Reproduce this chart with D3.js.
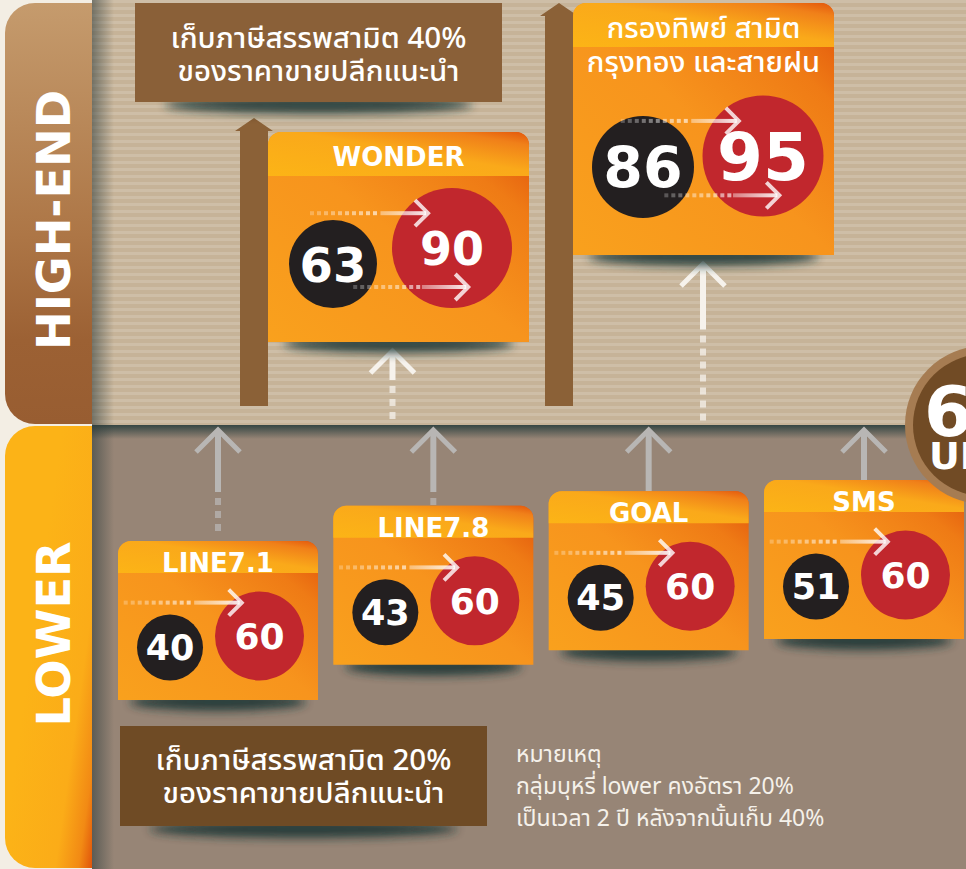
<!DOCTYPE html>
<html lang="th">
<head>
<meta charset="UTF-8">
<title>Excise tax on cigarettes</title>
<script src="https://d3js.org/d3.v7.min.js"></script>
<style>
  body { margin: 0; background: #f3eee4; }
  svg text { font-family: "DejaVu Sans", sans-serif; }
  svg text.thai { font-family: "Noto Sans Thai", "Noto Sans", "DejaVu Sans", sans-serif; }
</style>
</head>
<body>
<div id="chart"></div>
<script>
// ---- data ----
const tierLabels = ["HIGH-END", "LOWER"];
const lowerBrands = ["LINE7.1", "LINE7.8", "GOAL", "SMS"];
const lowerNow = [40, 43, 45, 51];
const lowerNew = [60, 60, 60, 60];
const highBrands = [["WONDER"], ["กรองทิพย์ สามิต", "กรุงทอง และสายฝน"]];
const highNow = [63, 86];
const highNew = [90, 95];
const highTax = ["เก็บภาษีสรรพสามิต 40%", "ของราคาขายปลีกแนะนำ"];
const lowerTax = ["เก็บภาษีสรรพสามิต 20%", "ของราคาขายปลีกแนะนำ"];
const notes = ["หมายเหตุ", "กลุ่มบุหรี่ lower คงอัตรา 20%", "เป็นเวลา 2 ปี หลังจากนั้นเก็บ 40%"];
const badge = ["60", "UP"];

// ---- layout ----
const W = 966, H = 869, splitY = 425, mainX = 92;
const lerp = (a, b, t) => d3.interpolateNumber(a, b)(t);

const xLow = d3.scaleLinear().domain([0, lowerBrands.length - 1]).range([118, 764]);
const yLow = d3.scaleSqrt().domain([0, lowerBrands.length - 1]).range([541, 480]);
const xHigh = d3.scaleLinear().domain([0, highBrands.length - 1]).range([268, 573]);
const yHigh = d3.scaleLinear().domain([0, highBrands.length - 1]).range([132, 3]);
const hHigh = d3.scaleLinear().domain([0, highBrands.length - 1]).range([210, 252]);

const cards = [];
lowerBrands.forEach((b, i) => {
  const x = xLow(i), y = yLow(i);
  cards.push({tier: "lower", lines: [b], now: lowerNow[i], next: lowerNew[i],
    x, y, w: 200, h: 159, head: 32,
    bx: x + 52, by: y + 106.5, rB: 33, fsB: 35,
    rx: x + 141.5, ry: y + 95, rR: 44.5, fsR: 36});
});
highBrands.forEach((b, i) => {
  const t = i / Math.max(1, highBrands.length - 1);
  const x = xHigh(i), y = yHigh(i), h = hHigh(i);
  cards.push({tier: "high", lines: b, now: highNow[i], next: highNew[i],
    x, y, w: 261, h, head: 44,
    bx: x + lerp(65, 70, t), by: y + h - lerp(78, 88, t), rB: lerp(44, 51, t), fsB: lerp(48, 57, t),
    rx: x + lerp(184, 190, t), ry: y + h - lerp(94, 99, t), rR: lerp(60, 60.5, t), fsR: lerp(46, 66, t)});
});

const svg = d3.select("#chart").append("svg")
  .attr("width", W).attr("height", H);
const defs = svg.append("defs");

const stripes = defs.append("pattern").attr("id", "stripes")
  .attr("patternUnits", "userSpaceOnUse").attr("width", 10).attr("height", 7);
stripes.append("rect").attr("width", 10).attr("height", 7).attr("fill", "#c6b398");
stripes.append("rect").attr("width", 10).attr("height", 3).attr("fill", "#cebea7");

function grad(id, stops, x1, y1, x2, y2) {
  const g = defs.append("linearGradient").attr("id", id)
    .attr("x1", x1).attr("y1", y1).attr("x2", x2).attr("y2", y2);
  stops.forEach(s => g.append("stop").attr("offset", s[0]).attr("stop-color", s[1])
    .attr("stop-opacity", s[2] == null ? 1 : s[2]));
}
grad("highPanel", [[0, "#c59b6d"], [0.55, "#ad7646"], [0.8, "#9c6134"], [1, "#985d31"]], 0, 0, 0, 1);
grad("lowPanel", [[0, "#fcb317"], [0.6, "#fbac18"], [0.85, "#f28a14"], [1, "#e0540b"]], 0.3, 0.5, 1, 1);
grad("cardBody", [[0, "#f9a11d"], [0.5, "#f7941d"], [0.8, "#ef7b15"], [1, "#e0520b"]], 0, 1, 1, 0);
grad("cardHead", [[0, "#fcb416"], [0.55, "#faa91a"], [0.85, "#f08019"], [1, "#e3570c"]], 0, 1, 1, 0);
grad("fadeH", [[0, "#ffffff", 0.4], [1, "#ffffff", 0.9]], 0, 0, 1, 0);
grad("splitShade", [[0, "#233a3a", 0.85], [1, "#233a3a", 0]], 0, 0, 0, 1);
grad("leftShade", [[0, "#2c3a3a", 0.55], [1, "#2c3a3a", 0]], 0, 0, 1, 0);

defs.append("filter").attr("id", "blur").attr("x", "-20%").attr("y", "-200%")
  .attr("width", "140%").attr("height", "500%")
  .append("feGaussianBlur").attr("stdDeviation", 5);

function roundLeft(x, y, w, h, r) {
  return `M${x + w},${y}H${x + r}A${r},${r} 0 0 0 ${x},${y + r}V${y + h - r}A${r},${r} 0 0 0 ${x + r},${y + h}H${x + w}Z`;
}
function roundTop(x, y, w, h, r) {
  return `M${x},${y + h}V${y + r}A${r},${r} 0 0 1 ${x + r},${y}H${x + w - r}A${r},${r} 0 0 1 ${x + w},${y + r}V${y + h}Z`;
}

// ---- background ----
svg.append("rect").attr("width", W).attr("height", H).attr("fill", "#f3eee4");
svg.append("rect").attr("x", mainX).attr("y", 0).attr("width", W - mainX).attr("height", splitY)
  .attr("fill", "url(#stripes)");
svg.append("rect").attr("x", mainX).attr("y", splitY).attr("width", W - mainX).attr("height", H - splitY)
  .attr("fill", "#978576");
svg.append("rect").attr("x", mainX).attr("y", splitY).attr("width", W - mainX).attr("height", 14)
  .attr("fill", "url(#splitShade)");
svg.append("rect").attr("x", mainX).attr("y", 0).attr("width", 22).attr("height", H)
  .attr("fill", "url(#leftShade)");

// tier side panels
svg.append("path").attr("d", roundLeft(5, 3, mainX - 5, splitY - 4, 30)).attr("fill", "url(#highPanel)");
svg.append("path").attr("d", roundLeft(5, splitY + 1, mainX - 5, H - splitY - 2, 30)).attr("fill", "url(#lowPanel)");
const tierCenter = [220, 634], tierLen = [260, 185];
tierLabels.forEach((t, i) => {
  svg.append("text")
    .attr("transform", `translate(53,${tierCenter[i]}) rotate(-90)`)
    .attr("text-anchor", "middle").attr("dy", "0.36em")
    .attr("font-size", 47).attr("font-weight", "bold").attr("fill", "#fff")
    .attr("textLength", tierLen[i]).attr("lengthAdjust", "spacingAndGlyphs")
    .text(t);
});

// ---- arrows ----
function vArrow(g, x, yTip, ySolid, yEnd, color) {
  g.append("path").attr("d", `M${x - 22},${yTip + 22}L${x},${yTip}L${x + 22},${yTip + 22}`)
    .attr("fill", "none").attr("stroke", color).attr("stroke-width", 5);
  g.append("rect").attr("x", x - 3).attr("y", yTip + 2).attr("width", 6).attr("height", ySolid - yTip - 2)
    .attr("fill", color);
  g.selectAll(null).data(d3.range(ySolid + 6, yEnd - 4, 13)).join("rect")
    .attr("x", x - 3).attr("y", d => d).attr("width", 6).attr("height", 7)
    .attr("fill", color).attr("opacity", 0.75);
}
function hArrow(g, x0, x1, y) {
  const len = x1 - x0, dotsEnd = x0 + len * 0.58;
  const dots = d3.range(x0, dotsEnd, 7);
  g.selectAll(null).data(dots).join("rect")
    .attr("x", d => d).attr("y", y - 2).attr("width", 4).attr("height", 4)
    .attr("fill", "#fff").attr("opacity", (d, i) => 0.25 + 0.4 * i / dots.length);
  g.append("rect").attr("x", dotsEnd + 2).attr("y", y - 2).attr("width", x1 - dotsEnd - 4).attr("height", 4)
    .attr("fill", "url(#fadeH)");
  g.append("path").attr("d", `M${x1 - 13},${y - 13}L${x1},${y}L${x1 - 13},${y + 13}`)
    .attr("fill", "none").attr("stroke", "#fff").attr("stroke-width", 4).attr("opacity", 0.8);
}

const arrowLayer = svg.append("g");
cards.forEach(c => {
  if (c.tier === "lower") {
    const x = c.x + c.w / 2;
    vArrow(arrowLayer, x, 430, Math.min(492, c.y), c.y, "#b8b6b4");
  } else {
    const x = (c.bx + c.rx) / 2, tip = c.y + c.h + 9;
    vArrow(arrowLayer, x, tip, tip + (splitY - 5 - tip) * 0.42, splitY - 3, "#f6f2ec");
  }
});

// brown tax arrows beside high-end cards
cards.filter(c => c.tier === "high").forEach(c => {
  const x1 = c.x, x0 = c.x - 28;
  const tip = c.y > 50 ? c.y - 14 : c.y;
  const base = tip + 13;
  svg.append("path")
    .attr("d", `M${x0},${splitY - 19}V${base}H${x0 - 5}L${(x0 + x1) / 2},${tip}L${x1 + 5},${base}H${x1}V${splitY - 19}Z`)
    .attr("fill", "#8b6137");
});

// ---- tax boxes ----
function taxBox(x, y, w, h, fill, lines, baselines) {
  svg.append("ellipse").attr("cx", x + w / 2).attr("cy", y + h + 3).attr("rx", w * 0.42).attr("ry", 9)
    .attr("fill", "#163232").attr("opacity", 0.85).attr("filter", "url(#blur)");
  svg.append("rect").attr("x", x).attr("y", y).attr("width", w).attr("height", h).attr("fill", fill);
  lines.forEach((t, i) => {
    svg.append("text").attr("class", "thai")
      .attr("x", x + w / 2).attr("y", baselines[i]).attr("text-anchor", "middle")
      .attr("font-size", 29).attr("font-weight", 500).attr("fill", "#fff")
      .attr("textLength", i === 0 ? 296 : 282).attr("lengthAdjust", "spacingAndGlyphs")
      .text(t);
  });
}
taxBox(135, 3, 367, 99, "#8a6038", highTax, [48, 81]);
taxBox(120, 726, 367, 100, "#6f4b25", lowerTax, [770, 803]);

// ---- cards ----
cards.forEach(c => {
  const g = svg.append("g");
  g.append("ellipse").attr("cx", c.x + c.w / 2).attr("cy", c.y + c.h + 2).attr("rx", c.w * 0.44).attr("ry", 9)
    .attr("fill", "#163232").attr("opacity", 0.85).attr("filter", "url(#blur)");
  g.append("path").attr("d", roundTop(c.x, c.y, c.w, c.h, 13)).attr("fill", "url(#cardBody)");
  g.append("path").attr("d", roundTop(c.x, c.y, c.w, c.head, 13)).attr("fill", "url(#cardHead)");

  const thai = c.lines.length > 1;
  c.lines.forEach((t, i) => {
    g.append("text").attr("class", thai ? "thai" : null)
      .attr("x", c.x + c.w / 2)
      .attr("y", thai ? c.y + 35 + i * 34 : c.y + c.head - (c.tier === "high" ? 10 : 1))
      .attr("text-anchor", "middle")
      .attr("font-size", thai ? 29 : 26).attr("font-weight", thai ? 500 : "bold")
      .attr("fill", "#fff").text(t);
  });

  g.append("circle").attr("cx", c.bx).attr("cy", c.by).attr("r", c.rB).attr("fill", "#231f20");
  g.append("circle").attr("cx", c.rx).attr("cy", c.ry).attr("r", c.rR).attr("fill", "#c1272d");

  const lift = c.tier === "lower" ? 0.75 : 0.58;
  hArrow(g, c.rx - c.rR * 0.4 - 118, c.rx - c.rR * 0.4, c.ry - c.rR * lift);
  if (c.tier === "high") hArrow(g, c.rx + c.rR * 0.27 - 115, c.rx + c.rR * 0.27, c.ry + c.rR * 0.65);

  g.append("text").attr("x", c.bx).attr("y", c.by + c.fsB * 0.365).attr("text-anchor", "middle")
    .attr("font-size", c.fsB).attr("font-weight", "bold").attr("fill", "#fff").text(c.now);
  g.append("text").attr("x", c.rx).attr("y", c.ry + c.fsR * 0.365).attr("text-anchor", "middle")
    .attr("font-size", c.fsR).attr("font-weight", "bold").attr("fill", "#fff").text(c.next);
});

// ---- badge at the right edge ----
svg.append("circle").attr("cx", 984).attr("cy", splitY).attr("r", 79).attr("fill", "#a67c52");
svg.append("circle").attr("cx", 984).attr("cy", splitY).attr("r", 71).attr("fill", "#714b25");
svg.append("text").attr("x", 924).attr("y", 436).attr("font-size", 70).attr("font-weight", "bold")
  .attr("fill", "#fff").text(badge[0]);
svg.append("text").attr("x", 929).attr("y", 469).attr("font-size", 38).attr("font-weight", "bold")
  .attr("fill", "#fff").text(badge[1]);

// ---- notes ----
notes.forEach((t, i) => {
  svg.append("text").attr("class", "thai").attr("x", 516).attr("y", 762 + i * 32)
    .attr("font-size", 23).attr("fill", "#f5f1ea").text(t);
});
</script>
</body>
</html>
